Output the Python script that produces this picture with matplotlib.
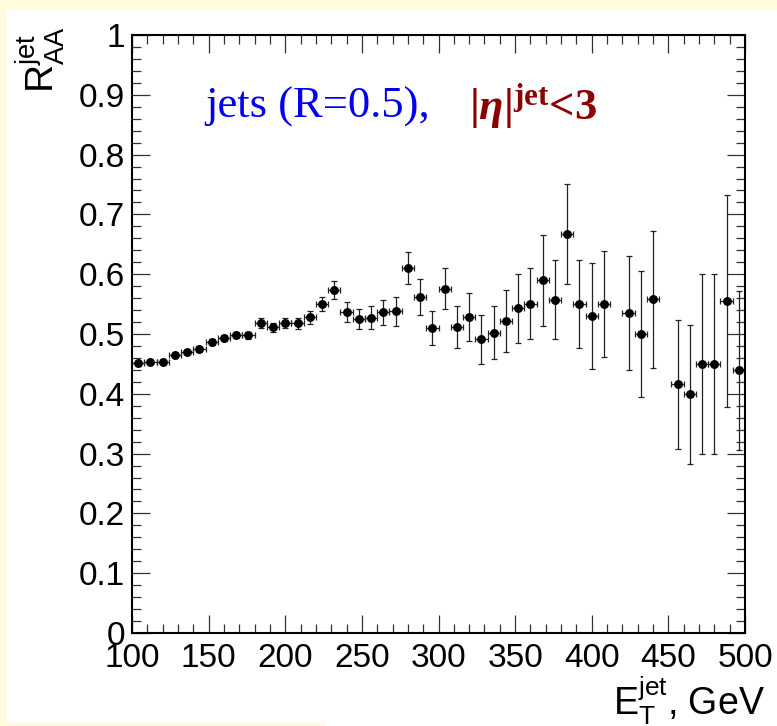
import numpy as np
import matplotlib
matplotlib.use("Agg")
import matplotlib.pyplot as plt
from matplotlib import font_manager
from matplotlib.patches import Rectangle

# ------------------------------------------------------------
# Data (8 GeV bins, 416 and 448 GeV bins empty)
# ------------------------------------------------------------
et_gev = [104, 112, 120, 128, 136, 144, 152, 160, 168, 176,
          184, 192, 200, 208, 216, 224, 232, 240, 248, 256,
          264, 272, 280, 288, 296, 304, 312, 320, 328, 336,
          344, 352, 360, 368, 376, 384, 392, 400, 408, 424,
          432, 440, 456, 464, 472, 480, 488, 496]
raa = [0.451, 0.454, 0.454, 0.465, 0.470, 0.475, 0.486, 0.493, 0.499, 0.498,
       0.518, 0.511, 0.518, 0.518, 0.528, 0.550, 0.574, 0.537, 0.525, 0.527,
       0.536, 0.538, 0.610, 0.562, 0.510, 0.576, 0.512, 0.528, 0.491, 0.502,
       0.522, 0.543, 0.551, 0.590, 0.557, 0.667, 0.550, 0.530, 0.550, 0.535,
       0.500, 0.558, 0.416, 0.399, 0.450, 0.450, 0.555, 0.439]
raa_err = [0.004, 0.004, 0.004, 0.004, 0.004, 0.005, 0.005, 0.005, 0.005, 0.006,
           0.008, 0.008, 0.008, 0.009, 0.011, 0.012, 0.015, 0.017, 0.017, 0.019,
           0.021, 0.024, 0.027, 0.030, 0.028, 0.034, 0.035, 0.040, 0.041, 0.044,
           0.052, 0.058, 0.060, 0.076, 0.066, 0.084, 0.074, 0.088, 0.089, 0.096,
           0.105, 0.115, 0.108, 0.116, 0.150, 0.150, 0.177, 0.133]
bin_half_width = 4.0

x_ticks = [100, 150, 200, 250, 300, 350, 400, 450, 500]
y_ticks = [0, 0.1, 0.2, 0.3, 0.4, 0.5, 0.6, 0.7, 0.8, 0.9, 1.0]
y_tick_labels = ["0", "0.1", "0.2", "0.3", "0.4", "0.5", "0.6", "0.7", "0.8", "0.9", "1"]

# ------------------------------------------------------------
# Fonts: ROOT-like sans for axes, Times-like serif for the annotation
# ------------------------------------------------------------
installed = {f.name for f in font_manager.fontManager.ttflist}
sans = "Liberation Sans Narrow" if "Liberation Sans Narrow" in installed else "Liberation Sans"

plt.rcParams["font.family"] = [sans, "DejaVu Sans"]
plt.rcParams["mathtext.fontset"] = "custom"
plt.rcParams["mathtext.rm"] = "Liberation Serif:bold"
plt.rcParams["mathtext.it"] = "Liberation Serif:italic:bold"
plt.rcParams["mathtext.sf"] = sans

W, H = 777, 726
fig = plt.figure(figsize=(W / 100, H / 100), dpi=100)

# cream frame of the original screenshot
cream = "#fffbdc"
fig.patches.append(Rectangle((0, 1 - 9 / H), 1, 9 / H, transform=fig.transFigure,
                             color=cream, zorder=0))
fig.patches.append(Rectangle((0, 0), 5 / W, 1, transform=fig.transFigure,
                             color=cream, zorder=0))
fig.patches.append(Rectangle((0, 0), 325 / W, 3 / H, transform=fig.transFigure,
                             color=cream, zorder=0))

ax = fig.add_axes([132 / W, 1 - 633 / H, (745 - 132) / W, (633 - 35) / H])

ax.errorbar(et_gev, raa, yerr=raa_err, xerr=bin_half_width,
            fmt="o", color="black", ms=5.4, elinewidth=0.9, ecolor="#222222",
            capsize=2.3, capthick=0.9)

ax.set_xlim(100, 500)
ax.set_ylim(0, 1)
ax.set_xticks(x_ticks)
ax.set_xticklabels([str(v) for v in x_ticks])
ax.set_xticks(np.arange(100, 501, 10), minor=True)
ax.set_yticks(y_ticks)
ax.set_yticklabels(y_tick_labels)
ax.set_yticks(np.arange(0, 1.001, 0.02), minor=True)

lab_size = 29 if sans.endswith("Narrow") else 24
ax.tick_params(which="both", direction="in", top=True, right=True,
               width=0.9, color="#333333", labelsize=lab_size)
ax.tick_params(which="major", length=13)
ax.tick_params(which="minor", length=6.5)
ax.tick_params(axis="x", which="major", pad=7)
ax.tick_params(axis="y", which="major", pad=5)
for sp in ax.spines.values():
    sp.set_linewidth(1.5)

# axis titles, ROOT style at the ends of the axes
fig.text(40 / W, 1 - 26 / H, r"$\mathsf{R^{jet}_{AA}}$", rotation=90,
         ha="center", va="top", fontsize=28)
fig.text(765 / W, 1 - 701 / H, r"$\mathsf{E^{jet}_{T}}$, GeV",
         ha="right", va="center", fontsize=27)

# annotation
ax.text(0.119, 0.88, "jets (R=0.5),", transform=ax.transAxes,
        family="Liberation Serif", color="#0000ee", fontsize=32,
        ha="left", va="center")
ax.text(0.550, 0.88, r"$|\eta|^{\rm jet}$<3", transform=ax.transAxes,
        family="Liberation Serif", weight="bold", color="#8b0000",
        fontsize=32, ha="left", va="center")

fig.savefig("out.png", dpi=100)
